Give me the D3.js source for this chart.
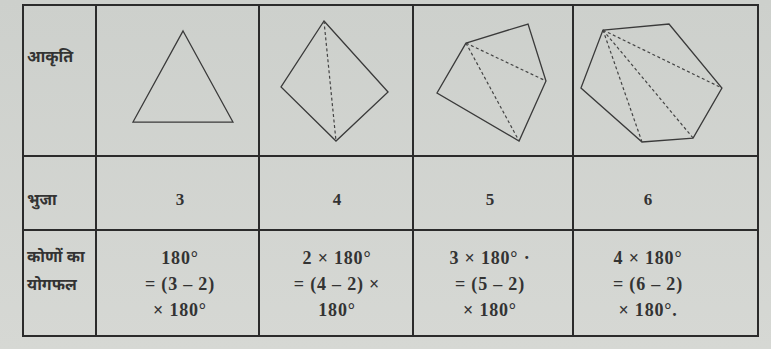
<!DOCTYPE html>
<html>
<head>
<meta charset="utf-8">
<script src="https://cdn.jsdelivr.net/npm/d3@7"></script>
<style>
  body { margin: 0; background: #d3d6d2; }
  svg { display: block; }
  .num { font-family: "Liberation Serif", Times, serif; font-weight: bold; }
  .lbl { font-family: "Noto Sans Devanagari", "Lohit Devanagari", "Noto Sans", sans-serif; font-weight: bold; }
</style>
</head>
<body>
<svg id="chart" width="771" height="349"></svg>
<script>
// Table content
const rowLabels = [["आकृति"], ["भुजा"], ["कोणों का", "योगफल"]];
const sides = [3, 4, 5, 6];
const angleSums = [
  ["180°", "= (3 – 2)", "× 180°"],
  ["2 × 180°", "= (4 – 2) ×", "180°"],
  ["3 × 180° ·", "= (5 – 2)", "× 180°"],
  ["4 × 180°", "= (6 – 2)", "× 180°."]
];

// Polygon vertices, in percent of their cell (x across, y down)
const triangle = [[53.4, 17.2], [84.0, 77.5], [22.7, 77.5]];
const quadrilateral = [[42.2, 10.6], [83.8, 57.6], [50.0, 90.1], [14.3, 54.3]];
const pentagon = [[33.1, 25.2], [71.9, 12.6], [83.1, 50.3], [66.3, 90.1], [15.0, 58.3]];
const hexagon = [[16.2, 16.6], [51.9, 12.6], [80.5, 55.0], [64.9, 88.1], [37.3, 90.7], [4.3, 55.0]];
const shapes = [triangle, quadrilateral, pentagon, hexagon];

const svg = d3.select("#chart");

// grid edges of the table
const colEdges = [23, 96, 259, 413, 573, 758];
const rowEdges = [5, 156, 230, 336];
// text centres of the four data columns
const textX = [180, 337, 490, 648];

// soft photo shading
const defs = svg.append("defs");
const grad = defs.append("linearGradient").attr("id", "bg")
  .attr("x1", 0).attr("y1", 0).attr("x2", 0).attr("y2", 1);
grad.append("stop").attr("offset", "0%").attr("stop-color", "#cdd0cc");
grad.append("stop").attr("offset", "100%").attr("stop-color", "#d6d8d4");
svg.append("rect").attr("width", 771).attr("height", 349).attr("fill", "url(#bg)");

const ink = "#2b2b2b";

// table lines
const grid = svg.append("g").attr("stroke", ink).attr("stroke-width", 2);
colEdges.forEach(x => {
  grid.append("line").attr("x1", x).attr("x2", x)
    .attr("y1", rowEdges[0]).attr("y2", rowEdges[rowEdges.length - 1]);
});
rowEdges.forEach(y => {
  grid.append("line").attr("y1", y).attr("y2", y)
    .attr("x1", colEdges[0] - 1).attr("x2", colEdges[colEdges.length - 1] + 1);
});

// row labels (Hindi)
const rowCenters = [58, 201, 272];
rowLabels.forEach((lines, r) => {
  lines.forEach((t, i) => {
    svg.append("text")
      .attr("class", "lbl")
      .attr("x", 27)
      .attr("y", rowCenters[r] + (i - (lines.length - 1) / 2) * 28)
      .attr("dominant-baseline", "middle")
      .attr("font-size", 16)
      .attr("fill", "#333")
      .text(t);
  });
});

// polygons
shapes.forEach((pts, c) => {
  const x = d3.scaleLinear().domain([0, 100]).range([colEdges[c + 1], colEdges[c + 2]]);
  const y = d3.scaleLinear().domain([0, 100]).range([rowEdges[0], rowEdges[1]]);
  const g = svg.append("g");

  const line = d3.line().x(d => x(d[0])).y(d => y(d[1])).curve(d3.curveLinearClosed);
  g.append("path")
    .attr("d", line(pts))
    .attr("fill", "none")
    .attr("stroke", "#3a3a3a")
    .attr("stroke-width", 1.3);

  // diagonals from the first vertex
  d3.range(2, pts.length - 1).forEach(k => {
    g.append("line")
      .attr("x1", x(pts[0][0])).attr("y1", y(pts[0][1]))
      .attr("x2", x(pts[k][0])).attr("y2", y(pts[k][1]))
      .attr("stroke", "#444")
      .attr("stroke-width", 1.2)
      .attr("stroke-dasharray", "3,2.5");
  });
});

// number of sides
sides.forEach((s, c) => {
  svg.append("text")
    .attr("class", "num")
    .attr("x", textX[c])
    .attr("y", 201)
    .attr("text-anchor", "middle")
    .attr("dominant-baseline", "middle")
    .attr("font-size", 17)
    .attr("fill", "#333")
    .text(s);
});

// sum of angles
angleSums.forEach((lines, c) => {
  lines.forEach((t, i) => {
    svg.append("text")
      .attr("class", "num")
      .attr("x", textX[c])
      .attr("y", 260 + i * 26)
      .attr("text-anchor", "middle")
      .attr("dominant-baseline", "middle")
      .attr("font-size", 18)
      .attr("letter-spacing", 0.8)
      .attr("fill", "#333")
      .text(t);
  });
});
</script>
</body>
</html>
